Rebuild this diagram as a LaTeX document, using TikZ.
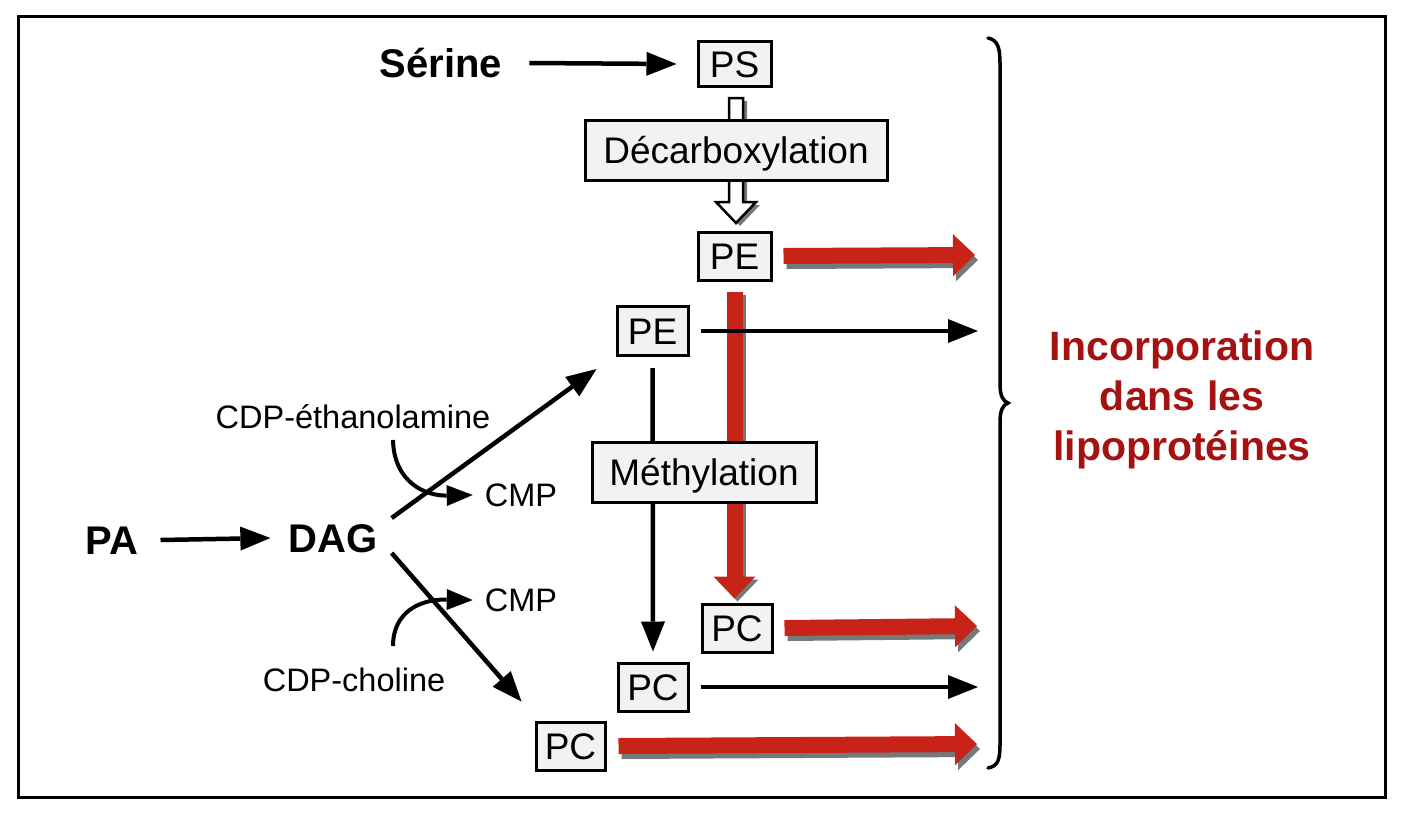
\documentclass[tikz,border=0pt]{standalone}
\usepackage{fontspec}
\setmainfont{Liberation Sans}
\usetikzlibrary{arrows.meta}
\definecolor{boxgray}{RGB}{242,242,242}
\definecolor{arrred}{RGB}{200,35,25}
\definecolor{txtred}{RGB}{165,18,18}
\definecolor{shad}{RGB}{115,122,122}
\pgfdeclarelayer{bg}
\pgfsetlayers{bg,main}
\begin{document}
\begin{tikzpicture}[x=1pt,y=-1pt,
 box/.style={draw=black, line width=3pt, fill=boxgray, inner sep=0pt, text height=26.5pt, text depth=0pt, font=\fontsize{37}{40}\selectfont},
 big/.style={inner sep=0pt, text height=29pt, text depth=0pt, font=\fontsize{40}{48}\selectfont\bfseries},
 small/.style={inner sep=0pt, text height=23pt, text depth=0pt, font=\fontsize{32.5}{38}\selectfont},
 blk/.style={line width=4.5pt, -{Triangle[length=30pt,width=24pt,line width=0pt]}},
 curv/.style={line width=4pt, -{Triangle[length=26pt,width=21pt,line width=0pt]}},
 redarr/.style={line width=16pt, arrred, -{Triangle[length=22pt,width=42pt,line width=0pt]}},
 redshadow/.style={line width=16pt, shad, -{Triangle[length=22pt,width=42pt,line width=0pt]}},
]
\useasboundingbox (0,0) rectangle (1404,812);
\begin{pgfonlayer}{bg}
\fill[white] (0,0) rectangle (1404,812);
\end{pgfonlayer}
\draw[line width=3pt] (18,16) rectangle (1385,797);

% nodes
\node[big] (Ser) at (441,63) {Sérine};
\node[box, minimum width=73pt, minimum height=45pt] (PS) at (734.5,64) {PS};
\node[box, minimum width=302pt, minimum height=60pt] (Dec) at (736,150) {Décarboxylation};
\node[box, minimum width=73pt, minimum height=48pt] (PEa) at (734.5,256) {PE};
\node[box, minimum width=71pt, minimum height=49pt] (PEb) at (652.5,331) {PE};
\node[box, minimum width=224pt, minimum height=60pt] (Meth) at (704,472) {Méthylation};
\node[box, minimum width=70pt, minimum height=48pt] (PCa) at (737,628) {PC};
\node[box, minimum width=70pt, minimum height=48pt] (PCb) at (653,687) {PC};
\node[box, minimum width=69pt, minimum height=48pt] (PCc) at (570.5,746) {PC};
\node[big] (PA) at (112,540) {PA};
\node[big] (DAG) at (333,538) {DAG};
\node[small] (CDPe) at (353,417) {CDP-éthanolamine};
\node[small] (CMPa) at (521,495) {CMP};
\node[small] (CMPb) at (521,600) {CMP};
\node[small] (CDPc) at (354,680) {CDP-choline};
\node[font=\fontsize{41}{50}\selectfont\bfseries, text=txtred, align=center, inner sep=0pt] (Inc) at (1182,400) {Incorporation\\dans les\\lipoprotéines};

% free ends
\coordinate (ePE) at (978,331);
\coordinate (ePC) at (978,687);
\coordinate (r1) at (975,255);
\coordinate (r2) at (977,626);
\coordinate (r3) at (977,744);
\coordinate (c1) at (393,440);
\coordinate (c2) at (393,646);

\begin{pgfonlayer}{bg}
 % red vertical arrow (behind Méthylation)
 \draw[redshadow, transform canvas={shift={(3pt,-3pt)}}] ([yshift=-10pt]PEa.south) -- ([yshift=4pt]PEa.south |- PCa.north);
 \draw[redarr] ([yshift=-10pt]PEa.south) -- ([yshift=4pt]PEa.south |- PCa.north);
 % hollow arrow (behind Décarboxylation)
 \fill[shad] (733,101) -- (747,101) -- (747,205) -- (760,205) -- (740,226) -- (720,205) -- (733,205) -- cycle;
 \draw[line width=2.5pt, fill=white, line join=miter] (729,98) -- (743,98) -- (743,202) -- (756,202) -- (736,223) -- (716,202) -- (729,202) -- cycle;
 % black vertical (behind Méthylation)
 \draw[blk] ([yshift=-11pt]PEb.south) -- ([yshift=10pt]PCb.north);
\end{pgfonlayer}

% black arrows
\draw[blk] ([xshift=27pt]Ser.east) -- ([xshift=-20pt]PS.west);
\draw[blk] ([xshift=22pt]PA.east) -- ([xshift=-18pt]DAG.west);
\draw[blk] ([xshift=14pt,yshift=20pt]DAG.east) -- ([xshift=-19pt,yshift=-12pt]PEb.south west);
\draw[blk] ([xshift=14pt,yshift=-15pt]DAG.east) -- ([xshift=-13pt,yshift=19pt]PCc.north west);
\draw[blk] ([xshift=11pt]PEb.east) -- (ePE);
\draw[blk] ([xshift=11pt]PCb.east) -- (ePC);

% curved arrows
\draw[curv] (c1) .. controls (394,482) and (425,496) .. ([xshift=-12pt]CMPa.west);
\draw[curv] (c2) .. controls (393,612) and (420,599) .. ([xshift=-12pt]CMPb.west);

% red horizontal arrows
\draw[redshadow, transform canvas={shift={(3pt,-5pt)}}] ([xshift=11pt]PEa.east) -- (r1);
\draw[redarr] ([xshift=11pt]PEa.east) -- (r1);
\draw[redshadow, transform canvas={shift={(3pt,-5pt)}}] ([xshift=11pt]PCa.east) -- (r2);
\draw[redarr] ([xshift=11pt]PCa.east) -- (r2);
\draw[redshadow, transform canvas={shift={(3pt,-5pt)}}] ([xshift=12pt]PCc.east) -- (r3);
\draw[redarr] ([xshift=12pt]PCc.east) -- (r3);

% brace
\draw[line width=3.5pt, line cap=round] (988,38) .. controls (998,40) and (1000,48) .. (1000,64) -- (1000,384) .. controls (1000,396) and (1003,401) .. (1008,403) .. controls (1003,405) and (1000,410) .. (1000,422) -- (1000,744) .. controls (1000,760) and (998,766) .. (988,768);
\end{tikzpicture}
\end{document}
